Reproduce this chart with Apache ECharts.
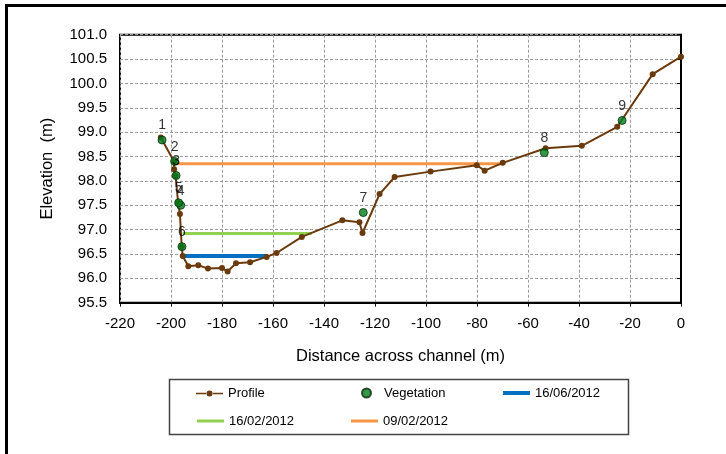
<!DOCTYPE html>
<html>
<head>
<meta charset="utf-8">
<script src="https://cdn.jsdelivr.net/npm/echarts@6/dist/echarts.min.js"></script>
<style>
  html, body { margin: 0; padding: 0; background: #fff; }
  #chart { width: 726px; height: 454px; }
</style>
</head>
<body>
<div id="chart"></div>
<script>
// Surveyed cross-section: distance across channel (m) and elevation (m)
const profileX = [-204.0, -198.8, -198.8, -198.2, -197.2, -196.5, -195.8, -195.4, -193.2, -189.3,
                  -185.5, -180.0, -177.8, -174.5, -169.0, -162.5, -158.6, -148.7, -132.8, -126.1,
                  -124.9, -118.2, -112.3, -98.2, -80.1, -77.0, -69.9, -53.1, -38.9, -25.0, -11.1, 0];
const profileY = [98.89, 98.40, 98.24, 98.10, 97.55, 97.32, 96.65, 96.46, 96.25, 96.27,
                  96.20, 96.21, 96.14, 96.31, 96.33, 96.44, 96.52, 96.85, 97.19, 97.15,
                  96.93, 97.73, 98.08, 98.19, 98.32, 98.21, 98.37, 98.67, 98.72, 99.11, 100.19, 100.55];

// Vegetation survey points, numbered 1-9
const vegLabels = ['1', '2', '3', '4', '5', '6', '7', '8', '9'];
const vegX = [-203.5, -198.6, -198.0, -196.2, -197.0, -195.7, -124.6, -53.6, -23.1];
const vegY = [98.84, 98.40, 98.11, 97.50, 97.55, 96.65, 97.35, 98.58, 99.24];

// Water levels on three survey dates: [start distance, end distance, level]
const water160612 = [-195.4, -162.5, 96.46];
const water160212 = [-195.4, -144.8, 96.92];
const water090212 = [-199.1, -69.9, 98.35];

// Axis ranges
const xMin = -220, xMax = 0, xStep = 20;
const yMin = 95.5, yMax = 101.0, yStep = 0.5;

const font = 'Liberation Sans, Arial, sans-serif';
const pair = (xs, ys) => xs.map((x, i) => [x, ys[i]]);
const level = w => [[w[0], w[2]], [w[1], w[2]]];

const colBlue = '#0070C0', colGreen = '#92D050', colOrange = '#F79646', colBrown = '#6B3A0C';

// Legend icon for the profile: a bar with a dot in the middle
const profileIcon = 'path://M0,2.3H11V3.7H0Z M16,2.3H27V3.7H16Z M10.5,3a3,3 0 1,0 6,0a3,3 0 1,0 -6,0Z';

const chart = echarts.init(document.getElementById('chart'), null, { renderer: 'canvas' });

function legendAt(item, left, top, extra) {
  return Object.assign({
    data: [item], left: left, top: top, padding: 0, orient: 'horizontal',
    itemWidth: 27, itemHeight: 14, selectedMode: false,
    textStyle: { fontFamily: font, fontSize: 13, color: '#000' }
  }, extra || {});
}

// A flat coloured bar used as the legend key of a water level
function barKey(name, color) {
  return { name: name, icon: 'rect', itemStyle: { color: color, borderWidth: 0 }, lineStyle: { width: 0, opacity: 0 } };
}

chart.setOption({
  animation: false,
  backgroundColor: '#fff',
  grid: { left: 120, right: 45, top: 34.7, bottom: 151.3, show: true, borderColor: '#000', borderWidth: 2, containLabel: false },
  xAxis: {
    type: 'value', min: xMin, max: xMax, interval: xStep,
    name: 'Distance across channel (m)', nameLocation: 'middle', nameGap: 45,
    nameTextStyle: { fontFamily: font, fontSize: 16.5, color: '#000' },
    axisLine: { show: true, onZero: false, lineStyle: { color: '#000', width: 2 } },
    axisTick: { show: true, length: 4, lineStyle: { color: '#000' } },
    axisLabel: { fontFamily: font, fontSize: 15, color: '#000', margin: 14 },
    splitLine: { show: true, lineStyle: { color: '#9a9a9a', type: [3, 2], width: 1 } }
  },
  yAxis: {
    type: 'value', min: yMin, max: yMax, interval: yStep,
    name: 'Elevation  (m)', nameLocation: 'middle', nameGap: 64, nameRotate: 90,
    nameTextStyle: { fontFamily: font, fontSize: 16.5, color: '#000' },
    axisLine: { show: true, lineStyle: { color: '#000', width: 2 } },
    axisTick: { show: true, length: 4, lineStyle: { color: '#000' } },
    axisLabel: { fontFamily: font, fontSize: 15, color: '#000', margin: 13, formatter: v => v.toFixed(1) },
    splitLine: { show: true, lineStyle: { color: '#9a9a9a', type: [3, 2], width: 1 } }
  },
  legend: [
    legendAt({ name: 'Profile', icon: profileIcon }, 196, 387, { itemHeight: 10 }),
    legendAt({ name: 'Vegetation', icon: 'circle' }, 361, 386.5, { itemWidth: 9, itemHeight: 9, textStyle: { fontFamily: font, fontSize: 13, color: '#000', padding: [0, 0, 0, 8] } }),
    legendAt(barKey('16/06/2012', colBlue), 503, 386.5, { itemHeight: 4 }),
    legendAt(barKey('16/02/2012', colGreen), 197, 414.5, { itemHeight: 3 }),
    legendAt(barKey('09/02/2012', colOrange), 351, 414.5, { itemHeight: 3 })
  ],
  graphic: [
    { type: 'rect', shape: { x: 169.5, y: 379.5, width: 459, height: 55 }, style: { fill: 'none', stroke: '#444', lineWidth: 1.5 }, z: 0 },
    { type: 'polyline', shape: { points: [[6.5, 460], [6.5, 5.5], [730, 5.5]] }, style: { fill: 'none', stroke: '#000', lineWidth: 3 } }
  ],
  series: [
    {
      name: '16/06/2012', type: 'line', data: level(water160612), symbol: 'none',
      lineStyle: { color: colBlue, width: 4 }, itemStyle: { color: colBlue }, z: 2
    },
    {
      name: '16/02/2012', type: 'line', data: level(water160212), symbol: 'none',
      lineStyle: { color: colGreen, width: 3 }, itemStyle: { color: colGreen }, z: 2
    },
    {
      name: '09/02/2012', type: 'line', data: level(water090212), symbol: 'none',
      lineStyle: { color: colOrange, width: 3 }, itemStyle: { color: colOrange }, z: 2
    },
    {
      name: 'Profile', type: 'line', data: pair(profileX, profileY),
      symbol: 'circle', symbolSize: 6, showAllSymbol: true,
      lineStyle: { color: colBrown, width: 2 }, itemStyle: { color: colBrown }, z: 3
    },
    {
      name: 'Vegetation', type: 'scatter',
      data: vegX.map((x, i) => ({ value: [x, vegY[i]], name: vegLabels[i] })),
      symbol: 'circle', symbolSize: 8,
      itemStyle: { color: '#00801A', borderColor: '#0a2a0a', borderWidth: 1 },
      label: { show: true, position: 'top', distance: 3, formatter: p => p.name, fontFamily: font, fontSize: 14, color: '#000' },
      z: 4
    }
  ]
});
</script>
</body>
</html>
